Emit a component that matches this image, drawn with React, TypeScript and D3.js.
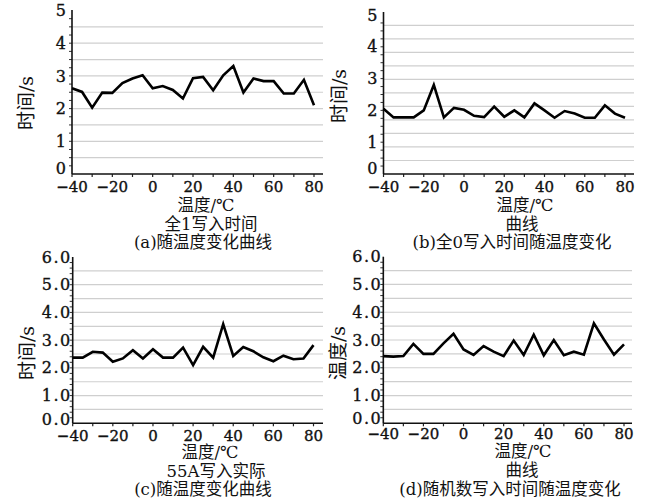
import { useEffect, useRef } from "react";
import * as d3 from "d3";

// temperatures (°C), one reading every 5 degrees
const temps = [-40, -35, -30, -25, -20, -15, -10, -5, 0, 5, 10, 15, 20, 25, 30, 35, 40, 45, 50, 55, 60, 65, 70, 75, 80];

// (a) all-1 write time
const allOnes = [2.62, 2.51, 2.03, 2.49, 2.48, 2.78, 2.92, 3.02, 2.62, 2.69, 2.57, 2.31, 2.93, 2.97, 2.56, 3.02, 3.3, 2.49, 2.92, 2.84, 2.84, 2.46, 2.46, 2.88, 2.1];
// (b) all-0 write time
const allZeros = [2.05, 1.78, 1.78, 1.78, 2.0, 2.8, 1.78, 2.08, 2.02, 1.83, 1.79, 2.12, 1.8, 2.0, 1.78, 2.22, 2.0, 1.77, 1.98, 1.9, 1.77, 1.77, 2.16, 1.9, 1.77];
// (c) 55A write time
const hex55A = [2.37, 2.37, 2.58, 2.55, 2.22, 2.34, 2.64, 2.34, 2.67, 2.37, 2.37, 2.73, 2.1, 2.76, 2.37, 3.58, 2.43, 2.75, 2.6, 2.38, 2.24, 2.44, 2.31, 2.34, 2.82];
// (d) random-number write time
const randomData = [2.42, 2.4, 2.42, 2.86, 2.5, 2.5, 2.88, 3.22, 2.66, 2.46, 2.78, 2.58, 2.42, 2.98, 2.46, 3.19, 2.45, 3.0, 2.45, 2.58, 2.47, 3.6, 3.02, 2.47, 2.84];

const xTickLabels = [-40, -20, 0, 20, 40, 60, 80];
const yTicksA = [0, 1, 2, 3, 4, 5];
const yTicksC = [0, 1, 2, 3, 4, 5, 6];

const FONT = "'DejaVu Serif', 'Noto Sans CJK SC', serif";

interface PanelDef {
  values: number[];
  yMax: number;
  yTicks: number[];
  fmt: (d: number) => string;
  gridLines: number[];
  minor: number[];
  left: number;
  right80: number;
  plotRight: number;
  bottom: number;
  top: number;
  axisTop: number;
  yLabel: string;
  yLabelPos: [number, number];
  labelGap: number;
  zeroLift: number;
  xLabelOffset: number;
  captions: { text: string; x: number; y: number }[];
}

const panels: PanelDef[] = [
  {
    values: allOnes, yMax: 5, yTicks: yTicksA, fmt: (d) => `${d}`,
    gridLines: d3.range(1, 10).map((i) => i * 0.5), minor: d3.range(1, 20).map((i) => i * 0.25),
    left: 72, right80: 314, plotRight: 323, bottom: 174, top: 10.5, axisTop: 10,
    yLabel: "时间/s", yLabelPos: [26, 103], labelGap: 6, zeroLift: 5.5, xLabelOffset: 12.5,
    captions: [
      { text: "温度/℃", x: 206, y: 205.5 },
      { text: "全1写入时间", x: 211, y: 224 },
      { text: "(a)随温度变化曲线", x: 203, y: 242.5 },
    ],
  },
  {
    values: allZeros, yMax: 5, yTicks: yTicksA, fmt: (d) => `${d}`,
    gridLines: d3.range(1, 12).map((i) => (i * 5.1) / 12), minor: d3.range(1, 20).map((i) => i * 0.25),
    left: 383.5, right80: 625, plotRight: 634, bottom: 174, top: 15, axisTop: 12,
    yLabel: "时间/s", yLabelPos: [339, 96], labelGap: 6, zeroLift: 5.5, xLabelOffset: 12.5,
    captions: [
      { text: "温度/℃", x: 525, y: 205.5 },
      { text: "曲线", x: 522, y: 224 },
      { text: "(b)全0写入时间随温度变化", x: 512, y: 242.5 },
    ],
  },
  {
    values: hex55A, yMax: 6, yTicks: yTicksC, fmt: (d) => d.toFixed(1),
    gridLines: d3.range(1, 12).map((i) => i * 0.5), minor: d3.range(1, 30).map((i) => i * 0.2),
    left: 72.7, right80: 313.5, plotRight: 323, bottom: 423.3, top: 257, axisTop: 257,
    yLabel: "时间/s", yLabelPos: [27, 353], labelGap: 1, zeroLift: 4, xLabelOffset: 12,
    captions: [
      { text: "温度/℃", x: 210, y: 452 },
      { text: "55A写入实际", x: 216, y: 471 },
      { text: "(c)随温度变化曲线", x: 203, y: 489 },
    ],
  },
  {
    values: randomData, yMax: 6, yTicks: yTicksC, fmt: (d) => d.toFixed(1),
    gridLines: d3.range(1, 12).map((i) => i * 0.5), minor: d3.range(1, 30).map((i) => i * 0.2),
    left: 383.3, right80: 624, plotRight: 632, bottom: 423.3, top: 256.7, axisTop: 256.7,
    yLabel: "温度/s", yLabelPos: [338, 353], labelGap: 1, zeroLift: 5, xLabelOffset: 10.5,
    captions: [
      { text: "温度/℃", x: 523, y: 451.5 },
      { text: "曲线", x: 522, y: 470 },
      { text: "(d)随机数写入时间随温度变化", x: 510, y: 489 },
    ],
  },
];

function drawPanel(g: d3.Selection<SVGGElement, unknown, null, undefined>, p: PanelDef) {
  const x = d3.scaleLinear().domain([-40, 80]).range([p.left, p.right80]);
  const y = d3.scaleLinear().domain([0, p.yMax]).range([p.bottom, p.top]);

  // grid
  g.selectAll(null).data(p.gridLines).enter().append("line")
    .attr("x1", p.left).attr("x2", p.plotRight)
    .attr("y1", (d) => y(d)).attr("y2", (d) => y(d))
    .attr("stroke", "#cfcfcf").attr("stroke-width", 1.2);

  // minor ticks on y axis
  g.selectAll(null).data(p.minor).enter().append("line")
    .attr("x1", p.left - 3).attr("x2", p.left)
    .attr("y1", (d) => y(d)).attr("y2", (d) => y(d))
    .attr("stroke", "#333").attr("stroke-width", 1);

  // x ticks every 10
  g.selectAll(null).data(d3.range(-40, 81, 10)).enter().append("line")
    .attr("x1", (d) => x(d)).attr("x2", (d) => x(d))
    .attr("y1", p.bottom).attr("y2", p.bottom + 3)
    .attr("stroke", "#222").attr("stroke-width", 1.2);

  // axes
  g.append("line").attr("x1", p.left).attr("x2", p.left).attr("y1", p.axisTop).attr("y2", p.bottom)
    .attr("stroke", "#111").attr("stroke-width", 1.6);
  g.append("line").attr("x1", p.left).attr("x2", p.plotRight).attr("y1", p.bottom).attr("y2", p.bottom)
    .attr("stroke", "#111").attr("stroke-width", 1.6);

  // y tick labels
  g.selectAll(null).data(p.yTicks).enter().append("text")
    .attr("x", p.left - p.labelGap).attr("y", (d) => y(d) - (d === 0 ? p.zeroLift : 0)).attr("dy", "0.35em")
    .attr("text-anchor", "end").attr("font-size", 16).attr("fill", "#111")
    .attr("stroke", "#111").attr("stroke-width", 0.35)
    .attr("letter-spacing", p.yMax === 6 ? 1.5 : 0)
    .text((d) => p.fmt(d));

  // x tick labels
  g.selectAll(null).data(xTickLabels).enter().append("text")
    .attr("x", (d) => x(d)).attr("y", p.bottom + p.xLabelOffset).attr("dy", "0.35em")
    .attr("text-anchor", "middle").attr("font-size", 15).attr("fill", "#111")
    .attr("stroke", "#111").attr("stroke-width", 0.35)
    .text((d) => (d < 0 ? `−${-d}` : `${d}`));

  // line
  const line = d3.line<number>().x((_, i) => x(temps[i])).y((d) => y(d));
  g.append("path").datum(p.values).attr("fill", "none").attr("stroke", "#000")
    .attr("stroke-width", 2.6).attr("stroke-linejoin", "miter").attr("d", line);

  // y label
  g.append("text")
    .attr("transform", `translate(${p.yLabelPos[0]},${p.yLabelPos[1]}) rotate(-90)`)
    .attr("text-anchor", "middle").attr("dy", "0.35em").attr("font-size", 19).attr("fill", "#111")
    .text(p.yLabel);

  // captions
  g.selectAll(null).data(p.captions).enter().append("text")
    .attr("x", (d) => d.x).attr("y", (d) => d.y).attr("dy", "0.35em")
    .attr("text-anchor", "middle").attr("font-size", 16.5).attr("fill", "#111")
    .text((d) => d.text);
}

export default function App() {
  const svgRef = useRef<SVGSVGElement>(null);

  useEffect(() => {
    if (!svgRef.current) return;
    const svg = d3.select(svgRef.current);
    svg.selectAll("*").remove();
    const root = svg.append("g").attr("font-family", FONT);
    panels.forEach((p) => drawPanel(root.append("g") as any, p));
  }, []);

  return (
    <svg
      ref={svgRef}
      width={651}
      height={499}
      style={{ position: "absolute", left: 0, top: 0, background: "#fff", display: "block" }}
    />
  );
}
